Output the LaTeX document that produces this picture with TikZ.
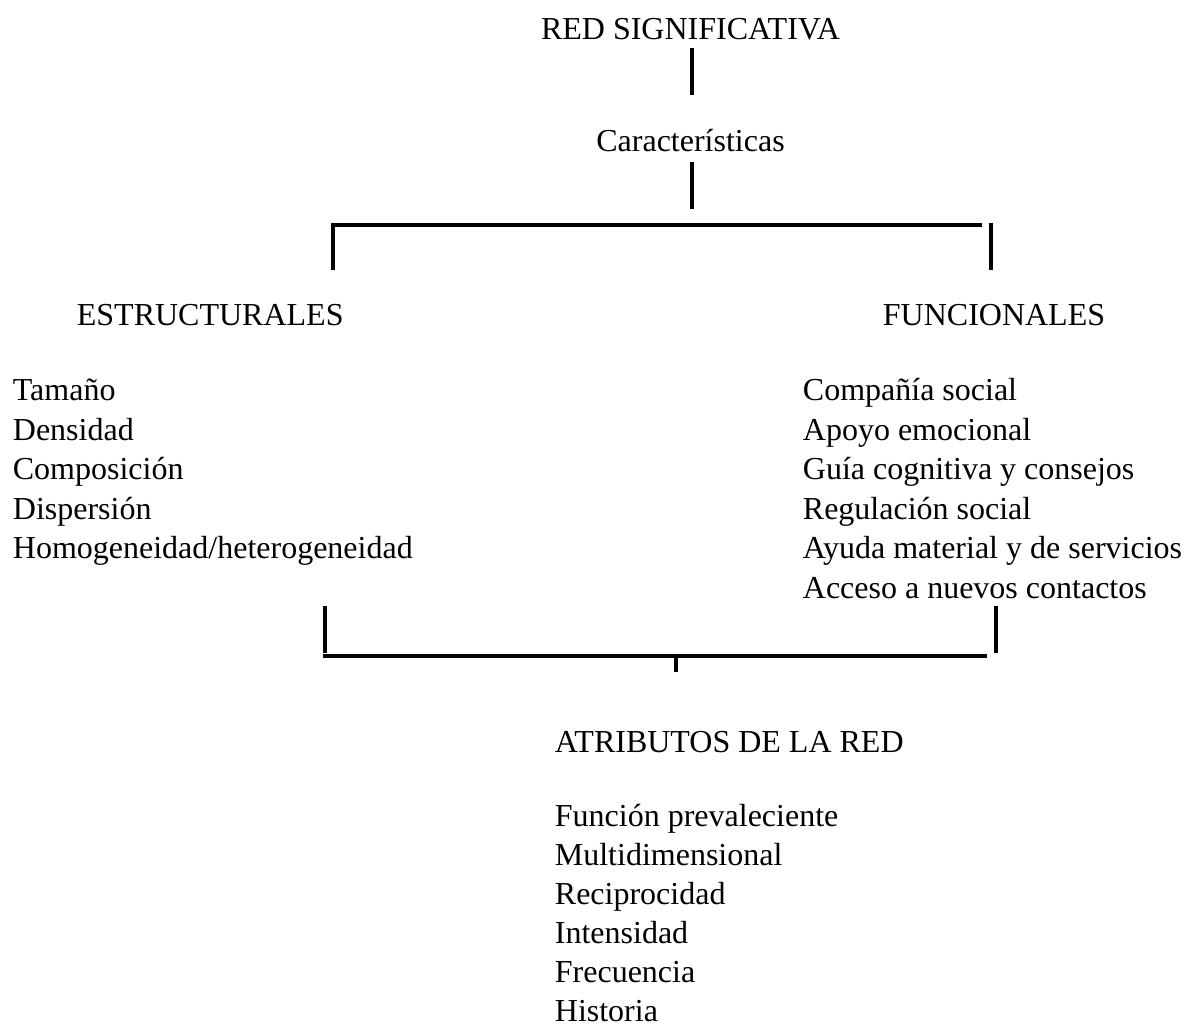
\documentclass[tikz,border=0pt]{standalone}
\usepackage{fontspec}
\setmainfont{Liberation Serif}
\usetikzlibrary{positioning, calc}

\begin{document}
\begin{tikzpicture}[x=0.5pt,y=-0.5pt,
    lbl/.style={font=\fontsize{16}{19.2}\selectfont, inner sep=0pt},
    head/.style={lbl, anchor=base},
    item/.style={lbl, anchor=base west},
    bar/.style={line width=2pt}]
      \useasboundingbox (0,0) rectangle (1189,1026);
      % top of the tree
      \node[head] (red) at (690.5,40) {RED SIGNIFICATIVA};
      \node[head] (carac) at (690.5,151.7) {Características};
      \coordinate (r1) at (692,48);
      \coordinate (r2) at (692,95);
      \coordinate (k1) at (692,162);
      \coordinate (k2) at (692,208.7);
      \draw[bar] (r1)--(r2);
      \draw[bar] (k1)--(k2);
      % upper bracket
      \coordinate (ul) at (333,270);
      \coordinate (uc) at (333,225);
      \coordinate (ur) at (982,225);
      \coordinate (vr1) at (991,222.7);
      \coordinate (vr2) at (991,270);
      \draw[bar] (ul)--(uc)--(ur);
      \draw[bar] (vr1)--(vr2);
      % the two groups
      \node[item] (estr) at (76.5,326) {ESTRUCTURALES};
      \node[item] (func) at (882.5,326) {FUNCIONALES};
      \node[item] (e1) at (12.5,401) {Tamaño};
      \node[item] (e2) at (12.5,440.4) {Densidad};
      \node[item] (e3) at (12.5,479.8) {Composición};
      \node[item] (e4) at (12.5,519.2) {Dispersión};
      \node[item] (e5) at (12.5,558.6) {Homogeneidad/heterogeneidad};
      \node[item] (f1) at (802.5,401) {Compañía social};
      \node[item] (f2) at (802.5,440.4) {Apoyo emocional};
      \node[item] (f3) at (802.5,479.8) {Guía cognitiva y consejos};
      \node[item] (f4) at (802.5,519.2) {Regulación social};
      \node[item] (f5) at (802.5,558.6) {Ayuda material y de servicios};
      \node[item] (f6) at (802.5,598) {Acceso a nuevos contactos};
      % lower bracket
      \coordinate (bl1) at (325,606);
      \coordinate (bl2) at (325,652.7);
      \coordinate (bb1) at (323,656);
      \coordinate (bb2) at (986.7,656);
      \coordinate (bs1) at (676,658);
      \coordinate (bs2) at (676,672);
      \coordinate (br1) at (996,606);
      \coordinate (br2) at (996,652.7);
      \draw[bar] (bl1)--(bl2);
      \draw[bar] (bb1)--(bb2);
      \draw[bar] (bs1)--(bs2);
      \draw[bar] (br1)--(br2);
      % attributes
      \node[item] (atr) at (554.5,752) {ATRIBUTOS DE LA RED};
      \node[item] (a1) at (554.5,826) {Función prevaleciente};
      \node[item] (a2) at (554.5,865) {Multidimensional};
      \node[item] (a3) at (554.5,904) {Reciprocidad};
      \node[item] (a4) at (554.5,943) {Intensidad};
      \node[item] (a5) at (554.5,982) {Frecuencia};
      \node[item, text depth=0pt] (a6) at (554.5,1021) {Historia};
    \end{tikzpicture}
\end{document}
